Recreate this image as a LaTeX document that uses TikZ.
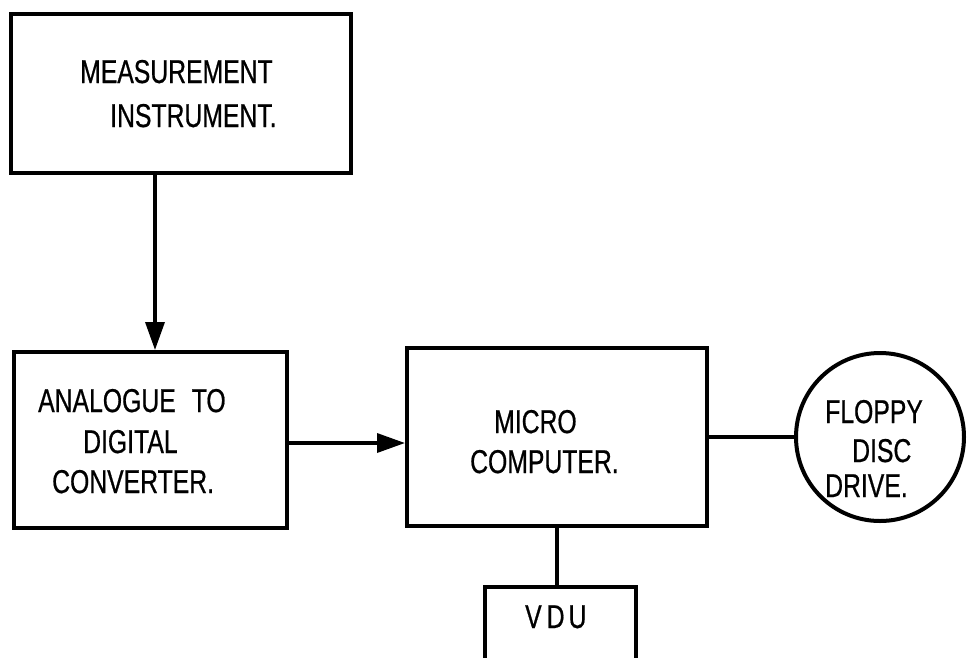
\documentclass[tikz,border=0pt]{standalone}
\usepackage{fontspec}
\setmainfont[FakeStretch=0.75,FakeBold=0.6]{Liberation Sans}
\usetikzlibrary{arrows.meta}
\begin{document}
\begin{tikzpicture}[x=1pt,y=-1pt,
  blockbox/.style={draw=black,line width=4pt,rectangle,inner sep=0pt,minimum width=#1},
  conn/.style={draw=black,line width=3.5pt},
  arr/.style={conn,-{Triangle[length=28pt,width=19pt]}},
  lbl/.style={anchor=base west,inner sep=0pt,font=\fontsize{33}{33}\selectfont}]
\useasboundingbox (0,0) rectangle (967,657);
\clip (0,0) rectangle (967,657);
\fill[white] (0,0) rectangle (967,657);
% boxes
\node[blockbox=340pt,minimum height=159pt] (meas) at (181,93.5) {};
\node[blockbox=273pt,minimum height=176pt] (adc) at (150.5,440) {};
\node[blockbox=300pt,minimum height=178pt] (micro) at (557,437) {};
\node[draw=black,line width=4pt,circle,inner sep=0pt,minimum size=168pt] (flop) at (880,437) {};
\node[blockbox=151pt,minimum height=113pt] (vdu) at (560.5,643.5) {};
% texts
\node[lbl] (t1) at (80,83) {MEASUREMENT};
\node[lbl] (t2) at (110,127) {INSTRUMENT.};
\node[lbl] (t3) at (38,412) {ANALOGUE\hspace{16pt}TO};
\node[lbl] (t4) at (83,453) {DIGITAL};
\node[lbl] (t5) at (52,493) {CONVERTER.};
\node[lbl] (t6) at (494,433) {MICRO};
\node[lbl] (t7) at (470,473) {COMPUTER.};
\node[lbl] (t8) at (825,423) {FLOPPY};
\node[lbl] (t9) at (852,462) {DISC};
\node[lbl] (t10) at (825,497) {DRIVE.};
\node[lbl] (t11) at (525,628) {V\hspace{5pt}D\hspace{4pt}U};
% connectors
\coordinate (ax) at (155,0);
\coordinate (hy) at (0,443);
\draw[arr] (meas.south -| ax) -- (adc.north -| ax);
\draw[arr] (adc.east |- hy) -- (micro.west |- hy);
\draw[conn] (micro.east) -- (flop.west);
\draw[conn] (micro.south) -- (micro.south |- vdu.north);
\end{tikzpicture}
\end{document}
